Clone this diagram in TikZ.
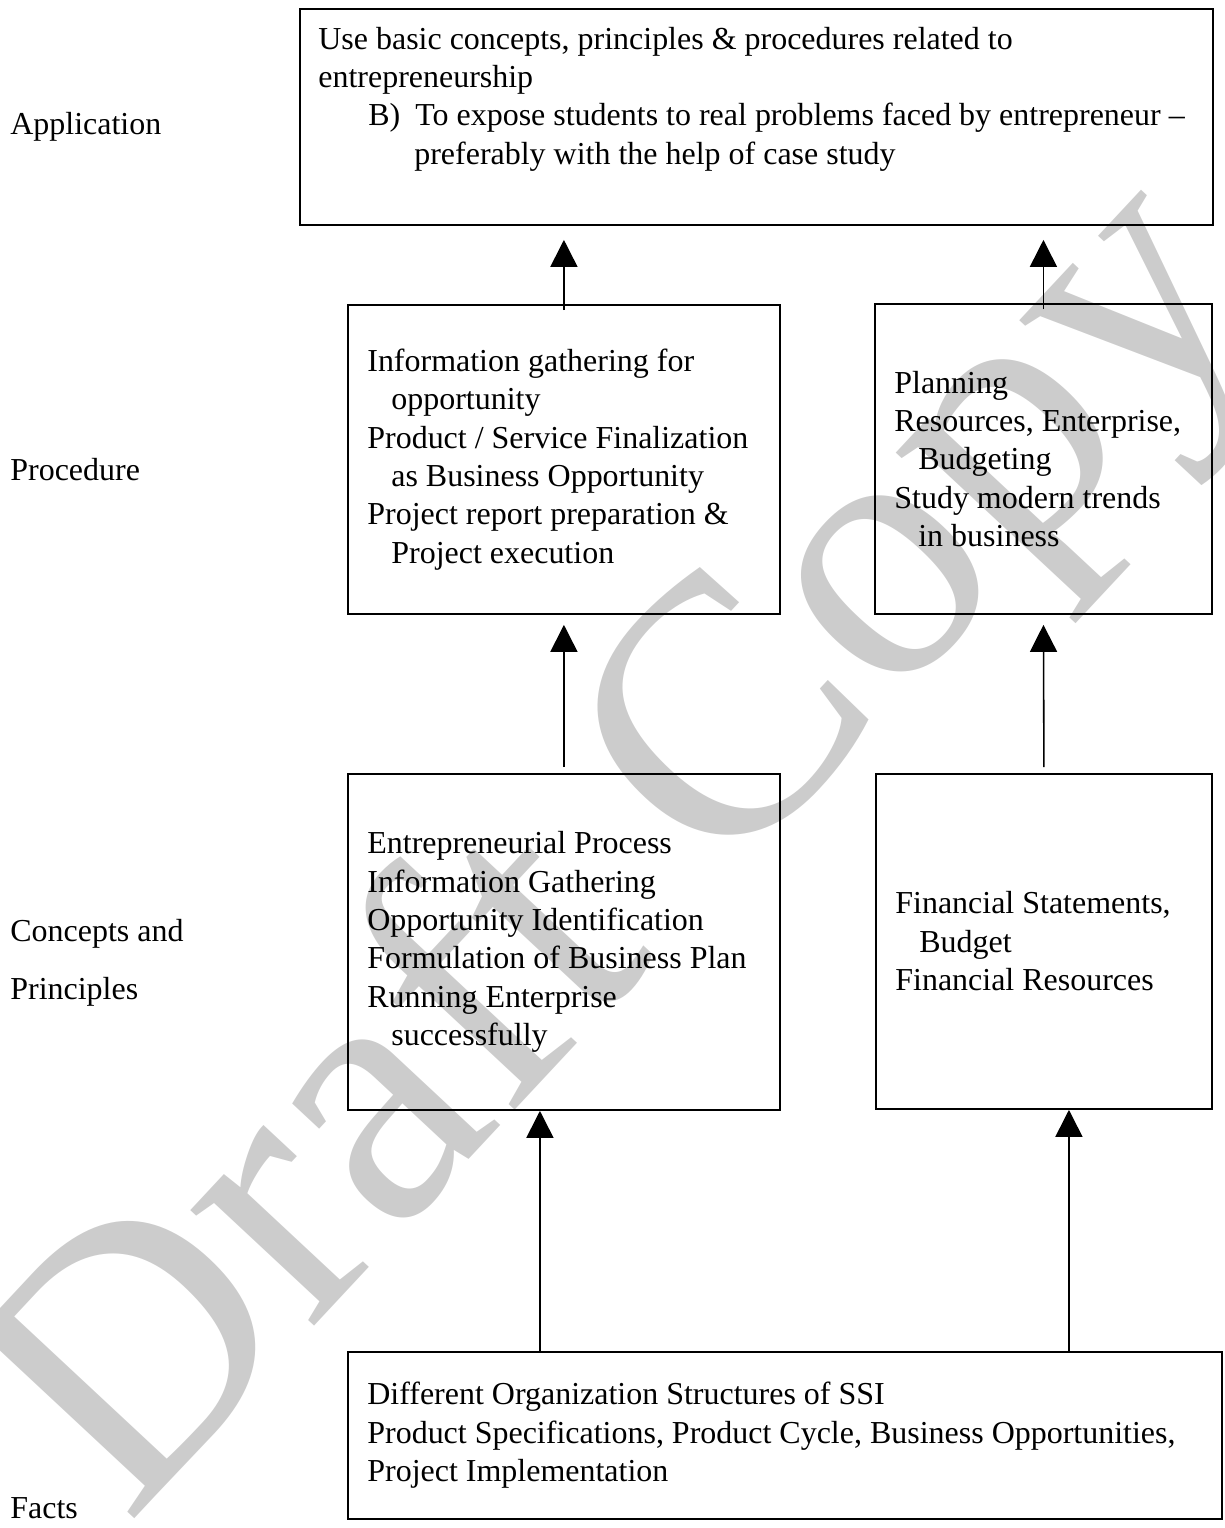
\documentclass[tikz,border=0pt]{standalone}
\usepackage{fontspec}
\setmainfont{Liberation Serif}
\usetikzlibrary{arrows.meta}

\newcommand{\ind}{\hspace*{0.48cm}}

\begin{document}
\begin{tikzpicture}
      [ x=0.02cm, y=-0.02cm,
        box/.style={draw, line width=1.1pt, inner sep=0pt, anchor=north west},
        txt/.style={align=left, inner sep=0pt, anchor=west,
                    font=\fontsize{18.2}{21.85}\selectfont},
        level/.style={inner sep=0pt, anchor=base west,
                    font=\fontsize{18.2}{21.85}\selectfont},
        up/.style={-{Triangle[length=0.54cm,width=0.54cm]}, line width=0.9pt},
        wmark/.style={inner sep=0pt, text=black!20, rotate=47,
                    font=\fontsize{210}{210}\selectfont}
      ]
      \useasboundingbox (0,0) rectangle (1224,1528);

      % watermark behind everything
      \node[wmark] (draft) at (631,854) {Draft Copy};

      % levels
      \node[level] (lapp)   at (10,134)  {Application};
      \node[level] (lproc)  at (10,480)  {Procedure};
      \node[level] (lconc)  at (10,941)  {Concepts and};
      \node[level] (lprin)  at (10,999)  {Principles};
      \node[level] (lfact)  at (10,1518) {Facts};

      % boxes
      \node[box, minimum width=18.26cm, minimum height=4.32cm] (app)   at (299,8)    {};
      \node[box, minimum width=8.64cm,  minimum height=6.18cm] (proc1) at (347,304)  {};
      \node[box, minimum width=6.74cm,  minimum height=6.2cm]  (proc2) at (874,303)  {};
      \node[box, minimum width=8.64cm,  minimum height=6.72cm] (conc1) at (347,773)  {};
      \node[box, minimum width=6.72cm,  minimum height=6.7cm]  (conc2) at (875,773)  {};
      \node[box, minimum width=17.48cm, minimum height=3.34cm] (facts) at (347,1351) {};

      % texts
      \node[txt] (apptxt) at ([xshift=0.38cm,yshift=0.36cm]app.west)
            {Use basic concepts, principles \& procedures related to\\
             entrepreneurship\\
             \hspace*{1.0cm}\makebox[0.94cm][l]{B)}To expose students to real problems faced by entrepreneur --\\
             \hspace*{1.92cm}preferably with the help of case study};
      \node[txt] (proc1txt) at ([xshift=0.4cm]proc1.west)
            {Information gathering for\\ \ind opportunity\\
             Product / Service Finalization\\ \ind as Business Opportunity\\
             Project report preparation \&\\ \ind Project execution};
      \node[txt] (proc2txt) at ([xshift=0.4cm]proc2.west)
            {Planning\\ Resources, Enterprise,\\ \ind Budgeting\\
             Study modern trends\\ \ind in business};
      \node[txt] (conc1txt) at ([xshift=0.4cm]conc1.west)
            {Entrepreneurial Process\\ Information Gathering\\
             Opportunity Identification\\ Formulation of Business Plan\\
             Running Enterprise\\ \ind successfully};
      \node[txt] (conc2txt) at ([xshift=0.4cm]conc2.west)
            {Financial Statements,\\ \ind Budget\\ Financial Resources};
      \node[txt] (factstxt) at ([xshift=0.4cm]facts.west)
            {Different Organization Structures of SSI\\
             Product Specifications, Product Cycle, Business Opportunities,\\
             Project Implementation};

      % arrows
      \draw[up] ([yshift=-0.12cm]proc1.north) -- ([yshift=-0.28cm]app.south -| proc1.north);
      \draw[up] ([yshift=-0.12cm]proc2.north) -- ([yshift=-0.28cm]app.south -| proc2.north);
      \draw[up] ([yshift=0.12cm]conc1.north)  -- ([yshift=-0.2cm]proc1.south);
      \draw[up] ([yshift=0.12cm]conc2.north)  -- ([yshift=-0.2cm]proc2.south);
      \draw[up] ([xshift=-0.48cm]conc1.south |- facts.north) -- ([xshift=-0.48cm]conc1.south);
      \draw[up] ([xshift=0.5cm]conc2.south |- facts.north)   -- ([xshift=0.5cm]conc2.south);
\end{tikzpicture}
\end{document}
